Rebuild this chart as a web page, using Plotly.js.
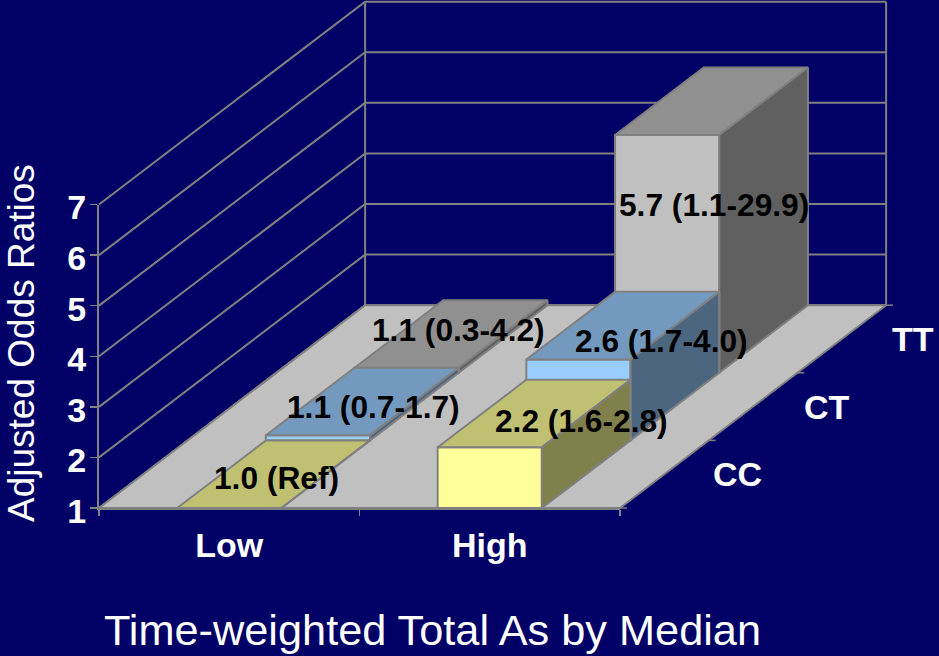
<!DOCTYPE html>
<html>
<head>
<meta charset="utf-8">
<script src="https://cdn.plot.ly/plotly-3.0.0.min.js"></script>
<style>html,body{margin:0;padding:0;background:#000066;}</style>
</head>
<body>
<div id="chart" style="width:939px;height:656px;"></div>
<script>
// Adjusted odds ratios by arsenic exposure group and genotype
const exposureGroups = ['Low', 'High'];
const genotypes = ['CC', 'CT', 'TT'];
const valueTicks = [1, 2, 3, 4, 5, 6, 7];
const ccOdds = [1.0, 2.2];
const ctOdds = [1.1, 2.6];
const ttOdds = [1.1, 5.7];
const ccLabels = ['1.0 (Ref)', '2.2 (1.6-2.8)'];
const ctLabels = ['1.1 (0.7-1.7)', '2.6 (1.7-4.0)'];
const ttLabels = ['1.1 (0.3-4.2)', '5.7 (1.1-29.9)'];

const oddsBySeries = [ccOdds, ctOdds, ttOdds];
const labelsBySeries = [ccLabels, ctLabels, ttLabels];

// Page geometry of the front plane of the box
const W = 939, H = 656;
const frontLeft = 99, frontRight = 620, floorY = 508, topY = 204.5;
const pxPerCat = (frontRight - frontLeft) / exposureGroups.length;
const pxPerVal = (floorY - topY) / (valueTicks.length - 1);

// Oblique depth: one genotype slot shifts the drawing right and up
const depthDx = 88.7 / pxPerCat;
const depthDy = 67.6 / pxPerVal;
const project = (cat, depth, val) => [cat + depth * depthDx, val + depth * depthDy];

const faceStyle = {
  cc: ['#FFFF99', '#C0C073', '#80804D'],
  ct: ['#99CCFF', '#7399BF', '#4D6680'],
  tt: ['#C0C0C0', '#909090', '#606060']
};
const seriesKeys = ['cc', 'ct', 'tt'];
const edge = '#808080';

function polygon(points, fill) {
  const closed = points.concat([points[0]]);
  return {
    type: 'scatter', mode: 'lines', x: closed.map(p => p[0]), y: closed.map(p => p[1]),
    fill: 'toself', fillcolor: fill, line: {color: edge, width: 2},
    hoverinfo: 'skip', showlegend: false
  };
}

function segments(list, width) {
  const xs = [], ys = [];
  list.forEach(seg => {
    seg.forEach(p => { xs.push(p[0]); ys.push(p[1]); });
    xs.push(null); ys.push(null);
  });
  return {
    type: 'scatter', mode: 'lines', x: xs, y: ys,
    line: {color: edge, width: width}, hoverinfo: 'skip', showlegend: false
  };
}

const nCat = exposureGroups.length, nDepth = genotypes.length;
const baseVal = valueTicks[0], topVal = valueTicks[valueTicks.length - 1];
const traces = [];

// Walls and gridlines
const wallLines = valueTicks.map(v => [project(0, 0, v), project(0, nDepth, v), project(nCat, nDepth, v)]);
wallLines.push([project(0, nDepth, baseVal), project(0, nDepth, topVal)]);
wallLines.push([project(nCat, nDepth, baseVal), project(nCat, nDepth, topVal)]);
traces.push(segments(wallLines, 2));

// Floor
traces.push(polygon([
  project(0, 0, baseVal), project(nCat, 0, baseVal), project(nCat, nDepth, baseVal), project(0, nDepth, baseVal)
], '#C0C0C0'));

// Depth-axis ticks along the right edge of the floor
const depthTickLen = 7 / pxPerCat;
const depthTicks = [];
for (let d = 0; d <= nDepth; d++) {
  const p = project(nCat, d, baseVal);
  depthTicks.push([p, [p[0] + depthTickLen, p[1]]]);
}
traces.push(segments(depthTicks, 1.5));

// Bars, painted from the back row to the front
const barLeft = 0.3, barWidth = 0.4;
for (let d = nDepth - 1; d >= 0; d--) {
  const colors = faceStyle[seriesKeys[d]];
  oddsBySeries[d].forEach((v, c) => {
    const x0 = c + barLeft, x1 = x0 + barWidth;
    traces.push(polygon([project(x0, d, baseVal), project(x1, d, baseVal), project(x1, d, v), project(x0, d, v)], colors[0]));
    traces.push(polygon([project(x0, d, v), project(x1, d, v), project(x1, d + 1, v), project(x0, d + 1, v)], colors[1]));
    traces.push(polygon([project(x1, d, baseVal), project(x1, d + 1, baseVal), project(x1, d + 1, v), project(x1, d, v)], colors[2]));
  });
}

// Empty trace that keeps the front-plane axes on the page
traces.push({type: 'scatter', mode: 'none', x: [0, nCat], y: [baseVal, topVal], xaxis: 'x2', yaxis: 'y2',
  hoverinfo: 'skip', showlegend: false});

const sans = '"Liberation Sans", Arial, sans-serif';
const annotations = [];

// Value labels, nudged off the centre of each bar's top face
const labelNudge = [
  [[3, -4], [47, -7]],
  [[11, -5], [39, -15]],
  [[7, 4], [2, -104]]
];
labelsBySeries.forEach((row, d) => row.forEach((text, c) => {
  const p = project(c + 0.5, d + 0.5, oddsBySeries[d][c]);
  annotations.push({
    x: p[0], y: p[1], xref: 'x', yref: 'y', text: text, showarrow: false,
    xshift: labelNudge[d][c][0], yshift: labelNudge[d][c][1],
    xanchor: 'center', yanchor: 'middle',
    font: {family: sans, size: 31.7, color: '#000000', weight: 700}
  });
}));

// Genotype labels beside the depth axis
const genotypeNudge = [73, 74, 71];
genotypes.forEach((g, d) => {
  const p = project(nCat, d + 0.5, baseVal);
  annotations.push({
    x: p[0], y: p[1], xref: 'x', yref: 'y', text: g, showarrow: false, xshift: genotypeNudge[d],
    xanchor: 'center', yanchor: 'middle',
    font: {family: sans, size: 34, color: '#FFFFFF', weight: 700}
  });
});

// Axis titles
annotations.push({
  x: 432 / W, y: 1 - 630 / H, xref: 'paper', yref: 'paper', text: 'Time-weighted Total As by Median',
  showarrow: false, xanchor: 'center', yanchor: 'middle',
  font: {family: sans, size: 43.3, color: '#FFFFFF'}
});
annotations.push({
  x: 21 / W, y: 1 - 343 / H, xref: 'paper', yref: 'paper', text: 'Adjusted Odds Ratios',
  showarrow: false, textangle: -90, xanchor: 'center', yanchor: 'middle',
  font: {family: sans, size: 37, color: '#FFFFFF'}
});

const hidden = {visible: false, showgrid: false, zeroline: false, fixedrange: true};
const layout = {
  width: W, height: H,
  margin: {l: 0, r: 0, t: 0, b: 0, pad: 0},
  paper_bgcolor: '#000066', plot_bgcolor: 'rgba(0,0,0,0)',
  showlegend: false,
  xaxis: Object.assign({range: [-frontLeft / pxPerCat, (W - frontLeft) / pxPerCat]}, hidden),
  yaxis: Object.assign({range: [baseVal - (H - floorY) / pxPerVal, baseVal + floorY / pxPerVal]}, hidden),
  xaxis2: {
    domain: [frontLeft / W, frontRight / W], range: [0, nCat], anchor: 'y2',
    tickmode: 'array', tickvals: [0.5, 1.5], ticktext: exposureGroups, ticks: '',
    ticklabelstandoff: 6,
    tickfont: {family: sans, size: 34, color: '#FFFFFF', weight: 700},
    showgrid: false, zeroline: false, showline: true, linecolor: edge, linewidth: 2,
    minor: {tickmode: 'array', tickvals: [0, 1, 2], ticks: 'outside', ticklen: 6, tickwidth: 1.5, tickcolor: edge, showgrid: false},
    fixedrange: true
  },
  yaxis2: {
    domain: [(H - floorY) / H, (H - topY) / H], range: [baseVal, topVal], anchor: 'x2',
    tickmode: 'array', tickvals: valueTicks, ticks: 'outside', ticklen: 7, tickwidth: 1.5, tickcolor: edge,
    ticklabelstandoff: -3, ticklabelshift: 3,
    tickfont: {family: sans, size: 34, color: '#FFFFFF', weight: 700},
    showgrid: false, zeroline: false, showline: true, linecolor: edge, linewidth: 2,
    fixedrange: true
  },
  annotations: annotations
};

Plotly.newPlot('chart', traces, layout, {displayModeBar: false, staticPlot: true});
</script>
</body>
</html>
